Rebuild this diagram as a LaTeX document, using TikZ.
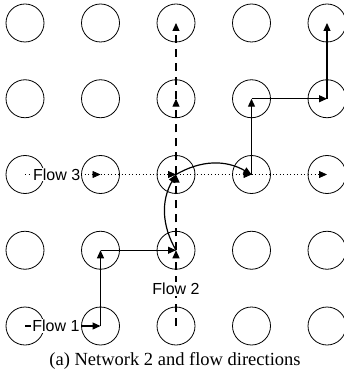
\documentclass[tikz,border=0pt]{standalone}
\usepackage{fontspec}
\setmainfont{Liberation Serif}
\newfontfamily\labfont{Liberation Sans}
\usetikzlibrary{arrows.meta}
\begin{document}
\begin{tikzpicture}[x=1pt,y=-1pt,
  nd/.style={circle,draw,line width=0.8pt,minimum size=38pt,inner sep=0pt},
  tipstyle/.style={-{Triangle[length=8pt,width=7pt]}},
  fl/.style={tipstyle,line width=1.2pt},
  dsh/.style={tipstyle,line width=1.1pt,dash pattern=on 8pt off 6pt},
  dotl/.style={tipstyle,line width=0.8pt,dash pattern=on 1pt off 2.5pt},
  lbl/.style={fill=white,inner sep=1pt,font=\labfont\fontsize{16}{18}\selectfont},
  captext/.style={font=\fontsize{18.5}{20}\selectfont,inner sep=0pt}]
\useasboundingbox (0,0) rectangle (344,379);
\foreach \r/\y in {1/23,2/98.75,3/174.5,4/250.25,5/326}
 \foreach \c/\x in {1/25,2/100.5,3/176,4/251.5,5/327}
  \node[nd] (n\r\c) at (\x,\y) {};
% Flow 3 (dotted)
\draw[dotl] (n31.center) -- node[lbl,pos=0.42] {Flow 3} (n32.center);
\draw[dotl] (n32.center) -- (n33.center);
\draw[dotl] (n33.center) -- (n34.center);
\draw[dotl] (n34.center) -- (n35.center);
% Flow 2 (dashed)
\draw[dsh] (n53.center) -- node[lbl,pos=0.49] {Flow 2} (n43.center);
\draw[dsh] (n43.center) -- (n33.center);
\draw[dsh] (n33.center) -- (n23.center);
\draw[dsh] (n23.center) -- (n13.center);
% Flow 1 (solid)
\draw[fl] (n51.center) -- node[lbl,pos=0.41] {Flow 1} (n52.center);
\draw[fl] (n52.center) -- (n42.center);
\draw[fl] (n42.center) -- (n43.center);
\draw[fl] (n43.center) to[bend left=30] (n33.center);
\draw[fl] (n33.center) to[bend left=30] (n34.center);
\draw[fl] (n34.center) -- (n24.center);
\draw[fl] (n24.center) -- (n25.center);
\draw[fl] (n25.center) -- (n15.center);
% caption
\node[captext] (caption) at (175,361) {(a) Network 2 and flow directions};
\end{tikzpicture}
\end{document}
